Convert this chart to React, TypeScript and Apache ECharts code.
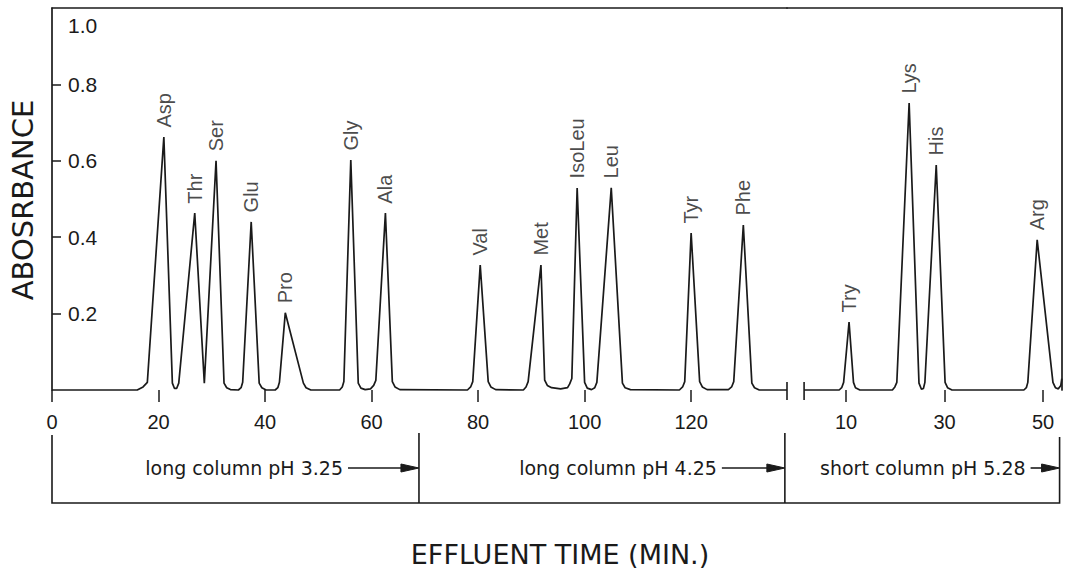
import React, { useEffect, useRef } from "react";
import * as echarts from "echarts";

// ---------- axis ticks ----------
const xTicksLong = [0, 20, 40, 60, 80, 100, 120];
const xTicksShort = [10, 30, 50];
const yLabels = [0.2, 0.4, 0.6, 0.8, 1.0];
const yTickMarks = [0.2, 0.4, 0.6, 0.8];

// ---------- peaks (label, time in min, absorbance) ----------
const peakNamesLong = ["Asp", "Thr", "Ser", "Glu", "Pro", "Gly", "Ala", "Val", "Met", "IsoLeu", "Leu", "Tyr", "Phe"];
const peakTimesLong = [21.0, 26.8, 30.8, 37.4, 43.8, 56.1, 62.6, 80.4, 91.8, 98.6, 105.0, 120.0, 129.8];
const peakHeightsLong = [0.662, 0.463, 0.6, 0.44, 0.202, 0.602, 0.463, 0.327, 0.327, 0.529, 0.529, 0.411, 0.432];

const peakNamesShort = ["Try", "Lys", "His", "Arg"];
const peakTimesShort = [10.6, 22.8, 28.3, 48.8];
const peakHeightsShort = [0.178, 0.751, 0.589, 0.393];

const traceLong: [number, number][] = [
  [0, 0], [16.0, 0], [17.1, 0.008], [17.9, 0.02], [21.0, 0.662],
  [22.6, 0.018], [23.0, 0.004], [23.4, 0.004], [23.8, 0.018], [26.8, 0.463],
  [28.6, 0.018], [30.8, 0.6], [32.3, 0.018], [32.8, 0.006], [33.5, 0.001],
  [35.0, 0], [35.5, 0.006], [35.8, 0.02], [37.4, 0.44], [38.9, 0.018],
  [39.4, 0.006], [40.2, 0], [41.9, 0], [42.4, 0.006], [42.7, 0.02],
  [43.8, 0.202], [47.2, 0.018], [47.7, 0.006], [48.6, 0], [54.0, 0],
  [54.5, 0.008], [54.8, 0.022], [56.1, 0.602], [57.5, 0.018], [58.0, 0.005],
  [58.8, 0.001], [59.8, 0.003], [60.4, 0.012], [60.8, 0.025], [62.6, 0.463],
  [63.9, 0.022], [64.4, 0.008], [65.3, 0.001], [78.0, 0], [78.6, 0.008],
  [79.0, 0.022], [80.4, 0.327], [81.9, 0.022], [82.4, 0.008], [83.3, 0.001],
  [88.5, 0], [89.0, 0.008], [89.4, 0.022], [91.8, 0.327], [92.5, 0.026],
  [93.0, 0.012], [93.8, 0.006], [95.5, 0.003], [96.8, 0.006], [97.2, 0.016],
  [97.6, 0.03], [98.6, 0.529], [100.0, 0.02], [100.5, 0.005], [101.3, 0.001],
  [101.9, 0.006], [102.3, 0.02], [105.0, 0.529], [107.1, 0.018], [107.6, 0.006],
  [108.6, 0.001], [117.8, 0], [118.4, 0.008], [118.8, 0.022], [120.0, 0.411],
  [121.6, 0.022], [122.1, 0.008], [123.0, 0.001], [127.0, 0.001], [127.6, 0.008],
  [128.0, 0.022], [129.8, 0.432], [131.4, 0.018], [131.9, 0.006], [132.8, 0],
  [138.0, 0],
];

const traceShort: [number, number][] = [
  [1.47, 0], [8.6, 0], [9.1, 0.006], [9.5, 0.02], [10.6, 0.178],
  [11.5, 0.02], [11.9, 0.006], [12.8, 0], [19.4, 0], [19.9, 0.008],
  [20.3, 0.02], [22.8, 0.751], [24.8, 0.018], [25.3, 0.002], [25.7, 0.004],
  [26.0, 0.02], [28.3, 0.589], [30.1, 0.02], [30.6, 0.006], [31.5, 0],
  [46.1, 0], [46.6, 0.006], [46.9, 0.02], [48.8, 0.393], [52.0, 0.02],
  [52.5, 0.006], [53.1, 0.003], [53.6, 0.012], [53.8, 0.03],
];

// ---------- buffer phases ----------
const phaseLabels = ["long column pH 3.25", "long column pH 4.25", "short column pH 5.28"];
const phaseEndAxis = [0, 0, 1];
const phaseEndTimes = [68.9, 137.6, 53.35];
const breakAxis = [0, 1];
const breakTimes = [138.0, 1.47];

// ---------- layout / style ----------
const TOP = 8;
const BASE = 390;
const G1_LEFT = 52;
const G1_W = 735;
const G2_W = 275;
const INK = "#1a1a1a";
const NUM_FONT = "Liberation Sans";
const WORD_FONT = "DejaVu Sans";

export default function App() {
  const ref = useRef<HTMLDivElement>(null);

  useEffect(() => {
    if (!ref.current) return;
    const chart = echarts.init(ref.current, null, { renderer: "svg" });

    const lineStyle = { color: INK, width: 1.7 };
    const bottomAxis = (grid: number, min: number, max: number, ticks: number[]) => ({
      type: "value",
      gridIndex: grid,
      position: "bottom",
      min,
      max,
      axisLine: { show: false, onZero: false },
      axisTick: { show: true, customValues: ticks, length: 12, lineStyle: { color: INK, width: 1.5 } },
      axisLabel: { show: true, customValues: ticks, margin: 22, fontSize: 20, fontFamily: NUM_FONT, color: INK },
      splitLine: { show: false },
    });
    const topAxis = (grid: number, min: number, max: number) => ({
      type: "value",
      gridIndex: grid,
      position: "top",
      min,
      max,
      axisLine: { show: true, onZero: false, lineStyle: { color: INK, width: 1.7 } },
      axisTick: { show: false },
      axisLabel: { show: false },
      splitLine: { show: false },
    });

    const peakSeries = (axis: number, names: string[], times: number[], heights: number[]) => ({
      type: "scatter",
      xAxisIndex: axis,
      yAxisIndex: axis,
      silent: true,
      symbolSize: 1,
      itemStyle: { color: "rgba(0,0,0,0)" },
      data: names.map((n, i) => ({ name: n, value: [times[i], heights[i]] })),
      label: {
        show: true,
        formatter: "{b}",
        position: "top",
        distance: 9,
        rotate: 90,
        align: "left",
        verticalAlign: "middle",
        fontSize: 20,
        fontFamily: NUM_FONT,
        color: INK,
      },
    });

    const option: any = {
      animation: false,
      backgroundColor: "#fff",
      grid: [
        { left: G1_LEFT, top: TOP, width: G1_W, height: BASE - TOP },
        { left: G1_LEFT + G1_W, top: TOP, width: G2_W, height: BASE - TOP },
      ],
      xAxis: [
        bottomAxis(0, 0, 138, xTicksLong),
        bottomAxis(1, -2, 53.84, xTicksShort),
        topAxis(0, 0, 138),
        topAxis(1, -2, 53.84),
      ],
      yAxis: [
        {
          type: "value",
          gridIndex: 0,
          position: "left",
          min: 0,
          max: 1,
          axisLine: { show: true, onZero: false, lineStyle: { color: INK, width: 1.7 } },
          axisTick: { show: true, inside: true, length: 9, customValues: yTickMarks, lineStyle: { color: INK, width: 1.5 } },
          axisLabel: {
            show: true,
            inside: true,
            margin: 16,
            customValues: yLabels,
            fontSize: 21,
            fontFamily: NUM_FONT,
            color: INK,
            formatter: (v: number) => (v >= 0.999 ? "{top|1.0}" : v.toFixed(1)),
            rich: { top: { padding: [34, 0, 0, 0], fontSize: 21, fontFamily: NUM_FONT, color: INK } },
          },
          splitLine: { show: false },
        },
        {
          type: "value",
          gridIndex: 1,
          position: "right",
          min: 0,
          max: 1,
          axisLine: { show: true, onZero: false, lineStyle: { color: INK, width: 1.7 } },
          axisTick: { show: false },
          axisLabel: { show: false },
          splitLine: { show: false },
        },
      ],
      series: [
        {
          type: "line",
          xAxisIndex: 0,
          yAxisIndex: 0,
          data: traceLong,
          showSymbol: false,
          silent: true,
          clip: false,
          lineStyle,
        },
        {
          type: "line",
          xAxisIndex: 1,
          yAxisIndex: 1,
          data: traceShort,
          showSymbol: false,
          silent: true,
          clip: false,
          lineStyle,
        },
        peakSeries(0, peakNamesLong, peakTimesLong, peakHeightsLong),
        peakSeries(1, peakNamesShort, peakTimesShort, peakHeightsShort),
      ],
    };

    chart.setOption(option);

    const px = (axis: number, t: number) => chart.convertToPixel({ xAxisIndex: axis }, t) as number;
    const baseY = chart.convertToPixel({ yAxisIndex: 0 }, 0) as number;

    const boxTop = 435;
    const boxBottom = 503;
    const labelY = 468;
    const arrowLens = [71, 63, 29];
    const x0 = px(0, 0);
    const ends = phaseEndTimes.map((t, i) => px(phaseEndAxis[i], t));
    const stroke = { stroke: INK, lineWidth: 1.6 };

    const graphics: any[] = [];
    // break marks on the trace
    breakTimes.forEach((t, i) => {
      const x = px(breakAxis[i], t);
      graphics.push({ type: "line", shape: { x1: x, y1: baseY - 8, x2: x, y2: baseY + 10 }, style: stroke, silent: true });
    });
    // phase box
    graphics.push({
      type: "polyline",
      shape: { points: [[x0, boxTop], [x0, boxBottom], [ends[2], boxBottom], [ends[2], boxTop + 2]] },
      style: { ...stroke, fill: null },
      silent: true,
    });
    ends.forEach((xe, i) => {
      if (i < 2) {
        graphics.push({ type: "line", shape: { x1: xe, y1: boxTop - 2, x2: xe, y2: boxBottom }, style: stroke, silent: true });
      }
      const xs = xe - arrowLens[i];
      graphics.push({ type: "line", shape: { x1: xs, y1: labelY, x2: xe - 14, y2: labelY }, style: stroke, silent: true });
      graphics.push({
        type: "polygon",
        shape: { points: [[xe - 18, labelY - 4], [xe, labelY], [xe - 18, labelY + 4]] },
        style: { fill: INK, stroke: INK, lineWidth: 1 },
        silent: true,
      });
      graphics.push({
        type: "text",
        x: xs - 5,
        y: labelY,
        style: {
          text: phaseLabels[i],
          align: "right",
          verticalAlign: "middle",
          fontSize: 19,
          fontFamily: WORD_FONT,
          fill: INK,
        },
        silent: true,
      });
    });
    // axis titles
    graphics.push({
      type: "text",
      x: 560,
      y: 554,
      style: {
        text: "EFFLUENT TIME (MIN.)",
        align: "center",
        verticalAlign: "middle",
        fontSize: 27,
        fontFamily: WORD_FONT,
        fill: INK,
      },
      silent: true,
    });
    graphics.push({
      type: "text",
      x: 23,
      y: 200,
      rotation: Math.PI / 2,
      style: {
        text: "ABOSRBANCE",
        align: "center",
        verticalAlign: "middle",
        fontSize: 29,
        fontFamily: WORD_FONT,
        fill: INK,
      },
      silent: true,
    });

    chart.setOption({ graphic: graphics });

    return () => {
      chart.dispose();
    };
  }, []);

  return (
    <div
      ref={ref}
      style={{ position: "fixed", left: 0, top: 0, width: 1070, height: 572, background: "#fff" }}
    />
  );
}
